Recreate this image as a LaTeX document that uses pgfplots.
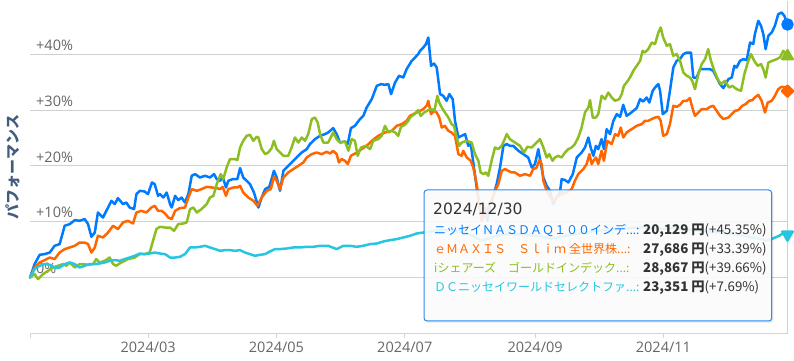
\documentclass[border=0pt]{standalone}
\usepackage{fontspec}
\setmainfont{DejaVu Sans}
\newfontfamily\jp{Noto Sans CJK JP}
\newfontfamily\tickfont{Open Sans}
\usepackage{pgfplots}
\pgfplotsset{compat=1.18}
\usepackage{pgfplotstable}

\definecolor{cblue}{RGB}{0,122,255}
\definecolor{corange}{RGB}{255,102,0}
\definecolor{cgreen}{RGB}{140,190,35}
\definecolor{ccyan}{RGB}{38,198,224}
\definecolor{gridc}{RGB}{208,208,208}
\definecolor{axisc}{RGB}{204,214,235}
\definecolor{labelc}{RGB}{102,102,102}
\definecolor{titlec}{RGB}{66,92,128}
\definecolor{tipborder}{RGB}{40,140,240}
\definecolor{tiptext}{RGB}{51,51,51}

\begin{document}
% day of year 2024 (Jan 1 = 0), performance in %
\pgfplotstableread[row sep=\\]{x y\\
3.8 0\\ 6.0 2.40\\ 8.4 4.07\\ 10.8 4.19\\ 13.2 4.48\\ 15.5 5.68\\ 17.9 5.99\\ 20.3 9.27\\ 22.7 9.57\\ 25.1 10.29\\
27.4 10.16\\ 29.8 10.47\\ 31.4 9.57\\ 33.0 7.29\\ 34.6 8.06\\ 36.1 11.65\\ 38.5 10.75\\ 40.9 12.54\\ 42.5 13.75\\ 44.1 13.15\\
45.6 14.23\\ 48.0 13.15\\ 49.6 13.44\\ 51.2 12.54\\ 53.3 12.26\\ 54.4 14.95\\ 56.0 15.54\\ 58.3 15.41\\ 59.9 14.95\\ 61.8 17.03\\
63.1 16.74\\ 64.7 14.64\\ 65.6 14.95\\ 67.2 14.34\\ 68.8 15.23\\ 70.4 13.15\\ 71.2 12.54\\ 72.8 14.64\\ 74.3 13.87\\ 75.9 14.34\\
77.5 13.44\\ 79.1 14.95\\ 80.7 18.23\\ 82.3 18.53\\ 84.6 17.92\\ 87.0 18.23\\ 89.4 17.92\\ 91.3 18.53\\ 92.6 17.63\\ 94.2 17.33\\
95.4 18.05\\ 97.0 16.13\\ 98.1 17.33\\ 100.2 17.63\\ 102.4 17.63\\ 103.7 19.61\\ 105.2 17.92\\ 106.8 17.33\\ 108.4 16.74\\ 110.3 15.23\\
112.4 12.54\\ 114.0 14.34\\ 115.6 15.84\\ 117.6 16.25\\ 119.8 19.12\\ 121.1 17.92\\ 122.7 15.54\\ 124.3 19.12\\ 126.6 20.02\\ 129.0 20.91\\
131.4 21.81\\ 133.0 22.40\\ 135.4 23.01\\ 136.9 23.91\\ 139.3 24.80\\ 141.7 25.39\\ 144.1 25.70\\ 145.6 25.99\\ 148.0 26.77\\ 149.6 25.70\\
151.2 24.19\\ 153.6 24.37\\ 154.9 23.91\\ 156.4 26.77\\ 158.3 27.19\\ 160.7 28.39\\ 162.3 28.98\\ 163.9 30.47\\ 166.3 31.97\\ 168.7 34.35\\
170.7 34.66\\ 172.6 34.53\\ 174.2 34.66\\ 175.5 32.87\\ 177.4 34.95\\ 179.3 36.15\\ 181.3 35.84\\ 182.9 37.35\\ 185.3 38.83\\ 186.9 39.43\\
188.4 40.04\\ 189.3 40.63\\ 190.8 41.22\\ 192.1 41.83\\ 193.2 43.01\\ 194.5 37.94\\ 195.9 38.35\\ 197.2 37.63\\ 198.8 32.87\\ 200.3 32.56\\
201.9 31.67\\ 203.2 32.87\\ 204.8 31.97\\ 205.9 28.08\\ 207.5 25.09\\ 209.1 25.39\\ 210.7 25.70\\ 212.2 23.60\\ 213.4 23.91\\ 214.9 19.71\\
216.2 16.13\\ 217.5 12.54\\ 218.6 10.16\\ 220.2 12.54\\ 221.3 10.16\\ 222.5 13.15\\ 224.1 14.64\\ 225.7 16.74\\ 227.3 19.71\\ 228.9 23.60\\
230.5 23.91\\ 232.0 23.60\\ 233.6 23.60\\ 236.0 22.71\\ 238.4 22.11\\ 240.7 21.51\\ 242.4 19.71\\ 243.9 20.32\\ 245.5 23.0\\ 247.9 17.92\\
249.5 16.43\\ 251.1 15.54\\ 252.6 13.15\\ 254.2 14.34\\ 255.8 15.23\\ 256.6 17.63\\ 258.2 17.46\\ 259.8 17.03\\ 261.9 18.53\\ 263.8 21.51\\
266.1 22.40\\ 267.7 23.30\\ 269.3 25.09\\ 270.4 23.30\\ 271.7 21.81\\ 272.9 23.60\\ 274.0 23.01\\ 275.6 24.80\\ 276.7 23.01\\ 278.0 26.59\\
279.6 25.70\\ 281.2 28.08\\ 282.8 29.28\\ 284.4 28.80\\ 285.9 30.95\\ 287.5 28.98\\ 289.1 29.39\\ 290.7 29.87\\ 292.3 30.36\\ 293.9 31.97\\
295.4 31.54\\ 297.0 32.26\\ 298.3 31.36\\ 299.9 33.46\\ 301.0 34.05\\ 302.6 34.66\\ 303.4 33.46\\ 304.7 29.28\\ 306.6 29.87\\ 308.1 33.46\\
309.7 37.63\\ 311.3 38.83\\ 312.9 39.14\\ 314.5 40.04\\ 316.1 40.32\\ 318.1 40.32\\ 319.2 35.84\\ 320.8 35.84\\ 322.4 37.35\\ 324.8 37.35\\
327.1 37.35\\ 328.7 37.04\\ 330.3 35.84\\ 331.9 34.66\\ 333.5 33.94\\ 334.6 34.66\\ 335.9 35.56\\ 337.5 35.84\\ 338.7 37.94\\ 339.8 37.63\\
341.4 38.83\\ 343.0 39.14\\ 344.6 38.96\\ 346.2 42.11\\ 347.7 41.83\\ 348.5 43.62\\ 350.1 46.00\\ 351.4 45.11\\ 352.5 43.62\\ 353.6 40.93\\
354.9 43.32\\ 356.5 43.91\\ 358.0 45.11\\ 359.6 47.20\\ 361.2 47.49\\ 362.5 46.90\\ 364 45.35\\
}\tblue
\pgfplotstableread[row sep=\\]{x y\\
3.8 0\\ 6.0 1.79\\ 8.4 2.69\\ 10.8 3.12\\ 13.2 3.58\\ 15.5 3.30\\ 17.9 4.48\\ 20.3 5.09\\ 22.7 5.38\\ 25.1 5.68\\
27.4 6.27\\ 29.8 6.27\\ 31.4 5.99\\ 33.0 4.48\\ 34.6 5.38\\ 36.1 7.47\\ 38.5 7.17\\ 40.9 8.06\\ 43.3 9.27\\ 45.6 8.67\\
48.0 9.86\\ 50.4 10.16\\ 52.8 9.68\\ 54.4 11.65\\ 56.7 11.95\\ 59.1 11.65\\ 61.5 12.54\\ 63.1 12.85\\ 64.7 11.95\\ 66.4 11.95\\
68.0 11.47\\ 69.6 10.75\\ 71.2 10.47\\ 72.8 11.95\\ 75.1 12.44\\ 77.5 12.54\\ 79.1 14.34\\ 80.7 15.84\\ 83.1 15.54\\ 85.4 15.84\\
87.8 16.25\\ 90.2 16.13\\ 92.6 16.02\\ 94.2 15.84\\ 95.4 16.25\\ 97.0 14.64\\ 98.1 15.84\\ 100.5 16.13\\ 102.4 16.13\\ 103.7 16.43\\
105.2 15.23\\ 107.6 14.34\\ 110.0 13.75\\ 111.9 12.85\\ 114.0 14.34\\ 116.4 15.54\\ 118.3 15.84\\ 119.8 18.05\\ 121.1 17.33\\ 122.7 15.84\\
124.3 17.92\\ 126.6 18.82\\ 129.0 19.43\\ 131.4 20.02\\ 133.8 20.61\\ 135.4 21.51\\ 137.8 22.11\\ 140.1 22.40\\ 142.5 22.11\\ 144.9 22.53\\
146.5 22.22\\ 148.0 22.71\\ 149.6 22.11\\ 150.7 20.61\\ 152.0 21.22\\ 153.6 20.91\\ 154.9 20.32\\ 156.4 21.81\\ 159.2 22.40\\ 161.5 23.01\\
163.9 23.60\\ 166.3 24.50\\ 169.4 25.39\\ 172.6 25.99\\ 175.8 26.29\\ 178.2 27.19\\ 180.6 27.49\\ 182.9 28.08\\ 184.5 28.98\\ 186.1 29.28\\
187.7 29.57\\ 189.3 29.87\\ 190.8 30.18\\ 192.4 30.77\\ 193.2 31.67\\ 194.5 29.28\\ 195.9 29.87\\ 197.2 29.57\\ 198.4 28.67\\ 199.6 26.88\\
201.1 27.19\\ 202.7 26.29\\ 204.3 25.99\\ 205.9 25.39\\ 207.5 22.11\\ 209.1 21.81\\ 209.8 22.71\\ 211.5 21.51\\ 213.4 20.91\\ 214.6 19.71\\
216.2 16.74\\ 217.5 13.15\\ 218.6 10.16\\ 220.2 11.36\\ 221.7 12.54\\ 223.3 13.75\\ 224.9 15.54\\ 226.5 16.74\\ 228.1 19.12\\ 229.7 19.43\\
231.2 19.12\\ 232.9 18.82\\ 234.4 18.82\\ 236.8 18.23\\ 239.2 18.53\\ 241.6 18.23\\ 243.1 19.43\\ 244.7 19.71\\ 246.0 21.04\\ 247.1 20.32\\
247.9 17.33\\ 249.5 15.54\\ 251.1 14.34\\ 252.6 13.75\\ 254.2 14.34\\ 256.6 14.95\\ 259.0 15.23\\ 261.4 15.84\\ 262.9 17.33\\ 264.5 18.53\\
266.9 19.43\\ 268.5 20.32\\ 269.8 22.11\\ 270.9 20.32\\ 271.7 20.91\\ 272.9 21.51\\ 274.0 20.32\\ 275.6 22.71\\ 276.7 20.91\\ 278.3 24.50\\
280.4 23.91\\ 282.0 25.70\\ 283.5 25.39\\ 284.7 26.88\\ 285.9 25.09\\ 287.5 25.99\\ 289.9 26.59\\ 292.3 27.19\\ 294.7 27.49\\ 296.2 28.08\\
297.8 28.08\\ 299.4 28.39\\ 301.0 28.67\\ 302.6 28.80\\ 303.7 28.08\\ 304.9 25.39\\ 306.6 25.70\\ 308.1 27.49\\ 309.7 30.77\\ 311.3 30.59\\
312.9 30.95\\ 314.5 31.67\\ 316.1 31.67\\ 317.6 32.15\\ 318.7 30.47\\ 320.0 28.98\\ 321.6 29.57\\ 323.2 30.18\\ 325.6 30.18\\ 327.2 30.59\\
328.7 30.77\\ 330.3 29.87\\ 331.9 28.98\\ 333.5 28.39\\ 335.9 28.67\\ 337.5 29.28\\ 339.0 29.87\\ 340.6 30.00\\ 342.5 30.77\\ 344.1 31.08\\
345.7 31.67\\ 347.3 31.79\\ 348.5 32.26\\ 350.1 32.74\\ 351.7 31.67\\ 353.3 29.57\\ 354.6 31.36\\ 356.5 31.67\\ 358.0 32.56\\ 359.6 33.76\\
361.2 34.18\\ 362.8 34.05\\ 364 33.39\\
}\torange
\pgfplotstableread[row sep=\\]{x y\\
3.8 0\\ 6.0 0.61\\ 7.6 -0.29\\ 10.0 0.61\\ 12.4 1.20\\ 14.7 1.79\\ 17.1 2.10\\ 19.5 2.40\\ 21.1 2.10\\ 22.7 2.69\\
25.1 1.79\\ 27.4 2.40\\ 29.0 2.40\\ 31.4 2.28\\ 33.8 2.40\\ 35.3 3.30\\ 36.9 2.69\\ 39.3 2.99\\ 41.7 3.58\\ 43.3 2.40\\
44.8 2.10\\ 47.2 2.69\\ 50.4 3.30\\ 53.6 3.58\\ 56.0 4.19\\ 58.3 4.19\\ 60.7 4.48\\ 62.3 6.58\\ 63.9 8.67\\ 65.6 9.09\\
68.0 8.96\\ 70.4 8.96\\ 72.3 8.37\\ 74.3 9.57\\ 76.7 9.68\\ 78.3 9.86\\ 79.9 12.26\\ 81.5 12.54\\ 83.1 11.65\\ 85.4 12.26\\
87.8 13.15\\ 89.4 14.34\\ 91.0 14.64\\ 92.6 16.74\\ 94.5 18.53\\ 95.7 17.63\\ 97.3 19.71\\ 98.9 21.22\\ 101.3 21.22\\ 102.4 21.04\\
103.7 23.30\\ 105.2 24.50\\ 106.8 25.39\\ 108.4 25.57\\ 110.0 24.50\\ 111.6 25.22\\ 112.4 25.09\\ 114.0 23.01\\ 115.6 22.11\\ 117.1 22.40\\
118.7 23.19\\ 119.8 24.50\\ 121.1 23.01\\ 122.7 22.40\\ 124.3 21.81\\ 126.6 21.81\\ 128.2 23.30\\ 129.8 25.09\\ 131.4 24.19\\ 133.0 25.09\\
134.6 24.50\\ 136.1 25.70\\ 137.8 28.39\\ 139.3 28.67\\ 140.6 27.78\\ 141.7 25.70\\ 143.3 24.19\\ 145.6 24.19\\ 148.0 25.99\\ 149.6 24.80\\
151.2 24.19\\ 153.6 24.37\\ 155.2 22.71\\ 156.8 24.80\\ 158.3 24.50\\ 159.6 21.81\\ 161.2 23.30\\ 163.4 23.60\\ 165.5 23.01\\ 167.0 24.50\\
169.4 24.80\\ 171.0 25.39\\ 172.6 27.19\\ 174.2 25.99\\ 175.8 26.29\\ 177.4 25.99\\ 178.9 25.39\\ 180.2 27.01\\ 182.1 27.37\\ 183.7 28.08\\
184.5 28.67\\ 186.9 29.39\\ 188.4 30.00\\ 189.6 28.98\\ 191.2 29.57\\ 193.2 30.00\\ 194.8 30.18\\ 196.1 29.87\\ 197.5 32.56\\ 198.4 31.36\\
199.6 30.47\\ 201.1 29.57\\ 202.7 28.67\\ 204.3 27.49\\ 205.4 27.19\\ 206.7 25.09\\ 207.9 23.60\\ 209.1 24.19\\ 211.5 24.50\\ 213.8 24.19\\
215.4 22.11\\ 217.0 20.91\\ 218.1 18.82\\ 219.4 18.53\\ 220.6 18.82\\ 221.7 18.23\\ 223.3 20.91\\ 224.9 23.30\\ 226.5 23.01\\ 228.1 23.60\\
229.2 24.50\\ 230.5 25.70\\ 232.0 24.80\\ 234.4 24.19\\ 236.8 23.60\\ 238.7 22.40\\ 240.3 23.42\\ 242.4 23.30\\ 243.9 23.91\\ 245.5 24.50\\
246.3 24.80\\ 247.9 23.30\\ 249.5 21.51\\ 250.7 22.11\\ 252.3 20.91\\ 253.4 21.51\\ 255.0 21.81\\ 256.6 21.51\\ 258.2 22.40\\ 259.8 23.01\\
261.4 23.30\\ 262.9 23.91\\ 264.5 25.09\\ 266.1 26.88\\ 267.7 29.57\\ 269.3 30.47\\ 270.1 31.79\\ 271.4 28.67\\ 272.9 28.67\\ 274.0 29.28\\
275.6 32.56\\ 277.2 31.97\\ 278.8 33.15\\ 280.4 32.26\\ 282.0 31.67\\ 284.0 31.97\\ 285.2 32.87\\ 286.2 34.35\\ 287.5 34.95\\ 289.1 35.84\\
290.7 37.04\\ 292.3 37.94\\ 293.9 38.83\\ 295.1 40.63\\ 296.2 40.32\\ 297.8 40.93\\ 299.4 42.11\\ 301.0 41.83\\ 302.6 43.91\\ 303.7 44.80\\
304.9 43.0\\ 306.6 41.52\\ 308.1 41.83\\ 309.7 39.73\\ 311.3 40.04\\ 312.9 38.83\\ 314.5 36.74\\ 316.1 36.15\\ 317.6 35.84\\ 318.7 35.25\\
320.0 33.76\\ 321.6 36.45\\ 323.2 38.24\\ 324.8 39.14\\ 326.3 40.93\\ 327.6 38.83\\ 329.2 37.04\\ 330.8 35.56\\ 332.4 34.66\\ 334.3 35.25\\
336.2 34.05\\ 337.8 34.35\\ 339.8 33.76\\ 341.9 33.46\\ 343.5 36.45\\ 345.1 38.53\\ 346.6 40.04\\ 348.2 38.83\\ 349.8 37.94\\ 351.4 38.24\\
352.5 37.35\\ 353.6 35.84\\ 354.9 38.53\\ 356.8 38.83\\ 358.9 39.14\\ 360.4 39.43\\ 362.0 40.63\\ 364 39.66\\
}\tgreen
\pgfplotstableread[row sep=\\]{x y\\
3.8 0\\ 6.0 1.51\\ 8.4 2.10\\ 10.8 2.40\\ 13.2 2.28\\ 15.5 1.79\\ 17.9 1.79\\ 20.3 2.40\\ 22.7 2.69\\ 25.1 2.40\\
27.4 1.79\\ 29.8 2.10\\ 32.2 2.40\\ 34.6 2.40\\ 36.9 2.51\\ 39.3 2.69\\ 41.7 2.99\\ 44.1 3.12\\ 46.5 2.99\\ 48.8 3.30\\
51.2 3.58\\ 53.6 3.89\\ 56.0 4.30\\ 58.3 4.19\\ 60.7 4.30\\ 63.1 4.48\\ 65.6 4.30\\ 68.0 4.19\\ 70.4 3.58\\ 72.8 3.58\\
75.1 3.71\\ 77.5 4.19\\ 79.9 5.38\\ 82.3 5.38\\ 84.6 5.50\\ 87.0 5.68\\ 89.4 5.38\\ 91.8 5.09\\ 94.2 4.78\\ 96.5 4.91\\
98.9 4.91\\ 101.3 4.78\\ 103.7 4.91\\ 106.0 4.48\\ 108.4 4.19\\ 110.8 3.89\\ 113.2 4.07\\ 115.5 4.19\\ 117.9 4.66\\ 120.3 5.09\\
122.7 5.09\\ 125.9 5.20\\ 129.0 5.38\\ 132.2 5.38\\ 135.4 5.50\\ 138.5 5.50\\ 141.7 5.68\\ 145.6 5.68\\ 149.6 5.09\\ 152.8 5.68\\
156.0 5.68\\ 159.2 5.50\\ 162.3 5.68\\ 165.5 5.99\\ 168.7 6.09\\ 171.8 6.45\\ 175.0 6.70\\ 178.2 6.88\\ 181.3 7.17\\ 184.5 7.47\\
187.7 7.89\\ 190.8 8.06\\ 195 8.3\\ 200 8.5\\ 205 8.4\\ 210 8.1\\ 215 7.4\\ 218 6.6\\ 222 7.0\\ 226 7.5\\
232 7.8\\ 240 7.7\\ 248 7.3\\ 252 7.0\\ 258 7.4\\ 265 7.9\\ 272 8.3\\ 280 8.6\\ 288 8.8\\ 296 9.0\\
304 8.7\\ 310 8.9\\ 318 8.6\\ 326 8.3\\ 334 8.0\\ 342 7.6\\ 348 7.1\\ 351.4 6.9\\ 353.6 6.6\\ 356.5 6.9\\
359.6 7.4\\ 362.0 7.9\\ 364 7.69\\
}\tcyan

\begin{tikzpicture}
\useasboundingbox (-30bp,-27.7bp) rectangle (764bp,333.3bp);
\begin{axis}[
  at={(0,0)}, anchor=south west,
  width=757.5bp, height=332bp, scale only axis,
  xmin=3.8, xmax=364, ymin=-10, ymax=49.5,
  clip=false,
  axis x line*=bottom, axis y line*=left,
  y axis line style={draw=none},
  x axis line style={draw=axisc, line width=1bp},
  xtick={60,121,182,244,305},
  xticklabels={2024/03,2024/05,2024/07,2024/09,2024/11},
  xtick style={draw=none},
  xticklabel style={font=\tickfont\fontsize{14.5bp}{16bp}\selectfont, text=labelc, anchor=base, inner sep=0pt, yshift=-19bp},
  ytick={0,10,20,30,40},
  yticklabels={0\%,+10\%,+20\%,+30\%,+40\%},
  ytick style={draw=none},
  yticklabel style={font=\tickfont\fontsize{14.5bp}{16bp}\selectfont, text=labelc, anchor=base west, inner sep=0pt, xshift=6bp, yshift=3.8bp},
  ymajorgrids, grid style={draw=gridc, line width=1bp},
  every axis plot/.append style={line width=2.5bp, line join=round, line cap=round},
]
\pgfplotsinvokeforeach{3.8,60,121,182,244,305}{
  \draw[axisc, line width=1bp] (axis cs:#1,-10) -- ([yshift=-5bp]axis cs:#1,-10);
}
\addplot[draw=gridc, line width=1bp] coordinates {(364,-10) (364,49.5)};
\addplot[cblue, no marks] table[x=x,y=y] {\tblue};
\addplot[corange, no marks] table[x=x,y=y] {\torange};
\addplot[cgreen, no marks] table[x=x,y=y] {\tgreen};
\addplot[ccyan, no marks] table[x=x,y=y] {\tcyan};
\addplot[only marks, mark=*, mark size=5bp, cblue, mark options={draw=cblue, fill=cblue}] coordinates {(364,45.35)};
\addplot[only marks, mark=square*, mark size=3.9bp, corange, mark options={rotate=45, draw=corange, fill=corange}] coordinates {(364,33.39)};
\addplot[only marks, mark=triangle*, mark size=6bp, cgreen, mark options={draw=cgreen, fill=cgreen}] coordinates {(364,39.66)};
\addplot[only marks, mark=triangle*, mark size=6bp, ccyan, mark options={rotate=180, draw=ccyan, fill=ccyan}] coordinates {(364,7.69)};
\end{axis}
% y axis title
\node[rotate=90, text=titlec, font=\jp\bfseries\fontsize{15bp}{18bp}\selectfont, inner sep=0pt] at (-17.5bp,166bp) {パフォーマンス};
% tooltip
\fill[black, opacity=0.10, rounded corners=3bp] (395.5bp,10.6bp) rectangle (743.4bp,141.8bp);
\draw[tipborder, line width=1bp, fill=white, fill opacity=0.88, rounded corners=3bp] (394bp,12.3bp) rectangle (741.7bp,143.3bp);
\node[anchor=base west, inner sep=0pt, text=tiptext, font=\fontsize{15.5bp}{18bp}\selectfont] at (403bp,118.3bp) {2024/12/30};
\begin{scope}[every node/.style={anchor=base west, inner sep=0pt}]
\node[text=cblue, font=\jp\fontsize{12bp}{14bp}\selectfont] at (404bp,98.3bp) {ニッセイＮＡＳＤＡＱ１００インデ...:};
\node[text=corange, font=\jp\fontsize{12bp}{14bp}\selectfont] at (404bp,79.3bp) {ｅＭＡＸＩＳ　Ｓｌｉｍ\hspace{3bp}全世界株...:};
\node[text=cgreen, font=\jp\fontsize{12bp}{14bp}\selectfont] at (404bp,61.0bp) {iシェアーズ　ゴールドインデック...:};
\node[text=ccyan, font=\jp\fontsize{12bp}{14bp}\selectfont] at (404bp,41.6bp) {ＤＣニッセイワールドセレクトファ...:};
\node[text=tiptext, font=\jp\fontsize{13.3bp}{15bp}\selectfont] at (613bp,98.3bp) {\textbf{20,129 円}(+45.35\%)};
\node[text=tiptext, font=\jp\fontsize{13.3bp}{15bp}\selectfont] at (613bp,79.3bp) {\textbf{27,686 円}(+33.39\%)};
\node[text=tiptext, font=\jp\fontsize{13.3bp}{15bp}\selectfont] at (613bp,61.0bp) {\textbf{28,867 円}(+39.66\%)};
\node[text=tiptext, font=\jp\fontsize{13.3bp}{15bp}\selectfont] at (613bp,41.6bp) {\textbf{23,351 円}(+7.69\%)};
\end{scope}
\end{tikzpicture}
\end{document}
